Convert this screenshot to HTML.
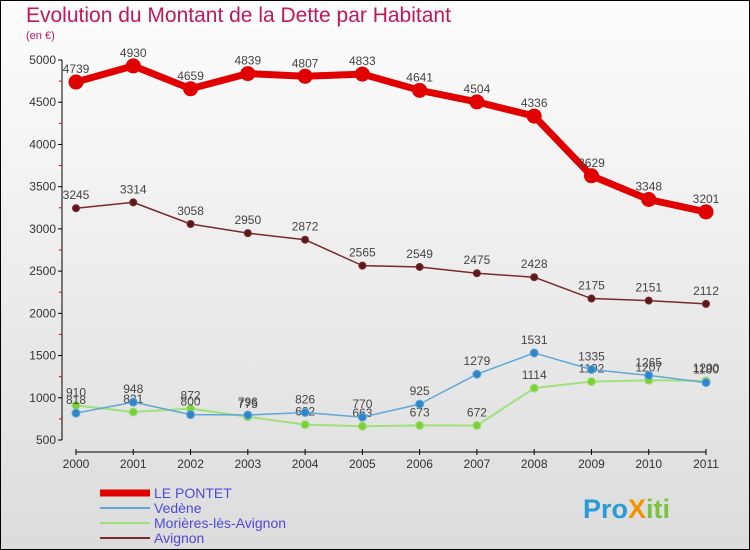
<!DOCTYPE html>
<html><head><meta charset="utf-8"><style>
body{margin:0}
#c{width:750px;height:550px;position:relative;overflow:hidden;background:linear-gradient(#fdfdfd,#dcdcdc);font-family:"Liberation Sans",sans-serif;box-sizing:border-box;border:1px solid #000}
svg text{font-family:"Liberation Sans",sans-serif}
</style></head><body>
<div id="c">
<svg id="s" width="750" height="550" style="position:absolute;left:-1px;top:-1px">
<text x="26" y="22" font-size="21" fill="#c2185b">Evolution du Montant de la Dette par Habitant</text>
<text x="26" y="39" font-size="11" fill="#c2185b">(en €)</text>
<g id="ax"></g><g id="ln"></g>
<text x="583" y="518" font-size="27" font-weight="bold" fill="#2a9bd6">Pro<tspan fill="#f39200">X</tspan><tspan fill="#7cc242">iti</tspan></text>
</svg>
</div>
<script>
const years=["2000","2001","2002","2003","2004","2005","2006","2007","2008","2009","2010","2011"];
const yTicks=[500,1000,1500,2000,2500,3000,3500,4000,4500,5000];
const lePontet=[4739,4930,4659,4839,4807,4833,4641,4504,4336,3629,3348,3201];
const vedene=[818,948,800,796,826,770,925,1279,1531,1335,1265,1180];
const morieres=[910,831,872,775,682,663,673,672,1114,1192,1207,1200];
const avignon=[3245,3314,3058,2950,2872,2565,2549,2475,2428,2175,2151,2112];
const NS="http://www.w3.org/2000/svg";
const X=i=>76+i*(630/11), Y=v=>440-(v-500)*(380/4500);
function mk(t,a,p){const e=document.createElementNS(NS,t);for(const k in a)e.setAttribute(k,a[k]);p.appendChild(e);return e;}
const ax=document.getElementById('ax'),ln=document.getElementById('ln');
let a=mk('line',{x1:62,y1:60,x2:62,y2:440,stroke:'#000'},ax);


yTicks.forEach(v=>{
 mk('line',{x1:58,y1:Y(v),x2:62,y2:Y(v),stroke:'#000'},ax);
 if(v<5000) mk('line',{x1:59,y1:Y(v+250),x2:62,y2:Y(v+250),stroke:'#e00'},ax);
 const t=mk('text',{x:56,y:Y(v)+4,'font-size':12,'text-anchor':'end',fill:'#333'},ax);t.textContent=v;
 
 
});
a=mk('line',{x1:76,y1:452,x2:706,y2:452,stroke:'#000'},ax);


years.forEach((y,i)=>{
 mk('line',{x1:X(i),y1:449,x2:X(i),y2:455,stroke:'#000'},ax);
 const t=mk('text',{x:X(i),y:468,'font-size':12,'text-anchor':'middle',fill:'#333'},ax);t.textContent=y;
 
 
});
function series(d,col,w,r,fill,name){
 const g=mk('g',{},ln);
 
 
 mk('polyline',{points:d.map((v,i)=>X(i)+','+Y(v)).join(' '),fill:'none',stroke:col,'stroke-width':w,'stroke-linejoin':'round'},g);
 d.forEach((v,i)=>{
  const c=mk('circle',{cx:X(i),cy:Y(v),r:r,fill:fill,stroke:col,'stroke-width':1},g);
  
  
  const t=mk('text',{x:X(i),y:Y(v)-9,'font-size':12,'text-anchor':'middle',fill:'#444'},g);t.textContent=v;
  
  
 });
}
series(avignon,'#7a2a2a',1.5,3.5,'#5a1a1a','avignon-line');
series(morieres,'#9fe07a',2,4,'#7cd13a','morieres-line');
series(vedene,'#5fa8d8',1.5,4,'#2e86c8','vedene-line');
series(lePontet,'#e00000',7,7,'#e00000','le-pontet-line');
const leg=[['LE PONTET','#e00000',7],['Vedène','#5fa8d8',2],['Morières-lès-Avignon','#9fe07a',2],['Avignon','#7a2a2a',2]];
leg.forEach((l,i)=>{
 const y=493+i*15;
 const g=mk('g',{},ax);
 
 
 mk('line',{x1:100,y1:y,x2:150,y2:y,stroke:l[1],'stroke-width':l[2]},g);
 const t=mk('text',{x:154,y:y+5,'font-size':14,fill:'#4b4bd8'},g);t.textContent=l[0];
});
</script>
</body></html>
